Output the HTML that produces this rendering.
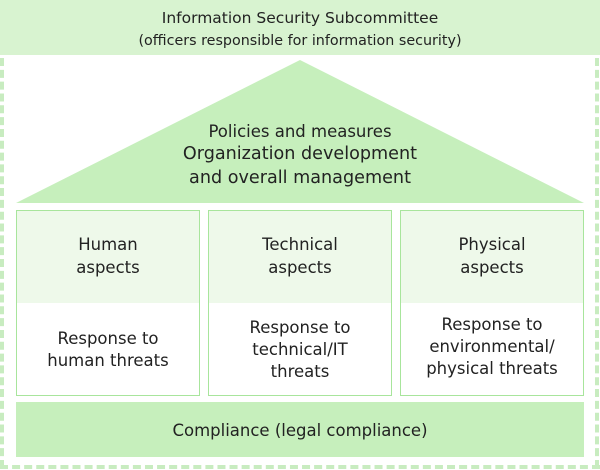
<!DOCTYPE html>
<html><head><style>
body{margin:0;width:600px;height:470px;background:#fff;position:relative;overflow:hidden;font-family:"DejaVu Sans","Liberation Sans",sans-serif;color:#222}
.a{position:absolute}
.t{position:absolute;text-align:center;line-height:23px;font-size:16.5px}
.box{position:absolute;top:210px;width:182px;height:184px;border:1.5px solid #a8e59c;background:#fff}
.box .top{position:absolute;left:0;top:0;right:0;height:92px;background:#eef9ea}
.box .l1{position:absolute;left:0;right:0;top:22px;text-align:center;font-size:16.5px;line-height:23px}
.box .l2{position:absolute;left:0;right:0;text-align:center;font-size:16.5px;line-height:22px}
</style></head><body>
<div class="a" style="left:0;top:0;width:600px;height:55px;background:#d8f3d0"></div>
<div class="t" style="left:0;top:7px;width:600px;font-size:15.5px">Information Security Subcommittee</div>
<div class="t" style="left:0;top:31px;width:600px;font-size:14.3px;line-height:20px">(officers responsible for information security)</div>
<div class="a" style="left:0;top:58px;width:0;height:410px;border-left:4px dashed #c8ecc0"></div>
<div class="a" style="left:595px;top:58px;width:0;height:410px;border-left:4px dashed #c8ecc0"></div>
<div class="a" style="left:0;top:465px;width:600px;height:0;border-top:4px dashed #c8ecc0"></div>
<svg class="a" style="left:0;top:0" width="600" height="470"><polygon points="16,203 300,60 584,203" fill="#c6efbc"/></svg>
<div class="t" style="left:0;top:120px;width:600px">Policies and measures</div>
<div class="t" style="left:0;top:143px;width:600px;font-size:17.6px">Organization development</div>
<div class="t" style="left:0;top:167px;width:600px;font-size:17.6px">and overall management</div>
<div class="box" style="left:16px"><div class="top"></div><div class="l1">Human<br>aspects</div><div class="l2" style="top:117px">Response to<br>human threats</div></div>
<div class="box" style="left:208px"><div class="top"></div><div class="l1">Technical<br>aspects</div><div class="l2" style="top:106px">Response to<br>technical/IT<br>threats</div></div>
<div class="box" style="left:400px"><div class="top"></div><div class="l1">Physical<br>aspects</div><div class="l2" style="top:103px">Response to<br>environmental/<br>physical threats</div></div>
<div class="a" style="left:16px;top:402px;width:568px;height:55px;background:#c6efbc"></div>
<div class="t" style="left:16px;top:419px;width:568px">Compliance (legal compliance)</div>
</body></html>
